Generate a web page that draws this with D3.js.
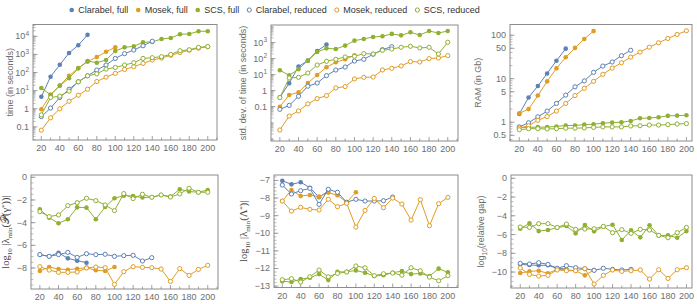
<!DOCTYPE html>
<html>
<head>
<meta charset="utf-8">
<script src="https://cdn.jsdelivr.net/npm/d3@7"></script>
<style>
    body { margin: 0; background: #fff; }
    svg { display: block; font-family: "Liberation Sans", Arial, sans-serif; }
    .tick-label { fill: #6e6e6e; font-size: 9px; }
    .axis-label { fill: #6e6e6e; font-size: 9px; }
    .math-label { fill: #444; font-family: "Liberation Serif", "DejaVu Serif", serif; font-size: 10.5px; }
    .legend-text { fill: #333; font-size: 9px; }
</style>
</head>
<body>
<svg id="chart" width="697" height="304"></svg>
<script>
// problem sizes (x axis)
var sizes = [20, 30, 40, 50, 60, 70, 80, 90, 100, 110, 120, 130, 140, 150, 160, 170, 180, 190, 200];

var seriesNames = ["Clarabel, full", "Mosek, full", "SCS, full", "Clarabel, reduced", "Mosek, reduced", "SCS, reduced"];
var seriesColors = ["#5e81b5", "#e19c24", "#8fb032", "#5e81b5", "#e19c24", "#8fb032"];
var seriesFilled = [true, true, true, false, false, false];

// time (in seconds)
var timeClarabelFull = [4.6, 59, 270, 1200, 3200, 12000];
var timeMosekFull = [0.95, 5.9, 19, 66, 177, 400, 720, 1400, 2450];
var timeScsFull = [14, 5.9, 19, 49, 170, 430, 350, 490, 1550, 2450, 2800, 4650, 4900, 7100, 8100, 13000, 13500, 19000, 19000];
var timeClarabelRed = [0.37, 1.1, 4.2, 12, 31, 66, 137, 260, 600, 1100, 1750, 3000, 5300];
var timeMosekRed = [0.066, 0.32, 1.0, 2.6, 5.6, 12, 32, 56, 90, 148, 210, 320, 490, 630, 890, 1260, 1700, 2200, 2700];
var timeScsRed = [0.46, 4.2, 5, 9.4, 31, 66, 85, 155, 190, 260, 350, 600, 660, 750, 1000, 1600, 1800, 2450, 2700];

// std. dev. of time
var sdClarabelFull = [0.38, 2.9, 32, 75, 300, 750];
var sdMosekFull = [0.1, 0.54, 0.79, 3.0, 9.5, 29, 59, 91, 160];
var sdScsFull = [19, 9, 22, 75, 260, 440, 400, 650, 1330, 1700, 2250, 2500, 3500, 2850, 4400, 3000, 5300, 4000, 5300];
var sdClarabelRed = [0.068, 0.12, 0.45, 1.9, 3.0, 8.7, 19.5, 30, 71, 91, 187, 365, 560];
var sdMosekRed = [0.0035, 0.026, 0.054, 0.15, 0.32, 0.49, 1.5, 1.8, 5.4, 6.8, 7.1, 19.6, 25, 35, 65, 62, 100, 110, 155];
var sdScsRed = [0.37, 6.2, 6.8, 12.6, 40, 68, 91, 127, 140, 205, 195, 330, 400, 510, 590, 465, 510, 195, 1050];

// RAM (in Gb)
var ramClarabelFull = [1.55, 3.7, 6.8, 13.2, 25.8, 49];
var ramMosekFull = [1.6, 2.0, 4.1, 8.7, 17.3, 31, 51, 82, 124];
var ramScsFull = [0.76, 0.76, 0.77, 0.77, 0.8, 0.84, 0.84, 0.88, 0.9, 0.95, 0.98, 1.0, 1.07, 1.23, 1.25, 1.3, 1.4, 1.42, 1.44];
var ramClarabelRed = [0.78, 0.97, 1.33, 1.8, 2.7, 4.2, 6.5, 8.9, 14, 19.5, 24.2, 33.8, 45];
var ramMosekRed = [0.73, 0.83, 1.11, 1.35, 1.8, 2.7, 4.1, 6.0, 8.7, 12.6, 17.5, 23.3, 31.3, 40.8, 53, 67, 84, 104, 126];
var ramScsRed = [0.67, 0.71, 0.71, 0.7, 0.71, 0.73, 0.73, 0.74, 0.76, 0.78, 0.78, 0.78, 0.82, 0.83, 0.86, 0.86, 0.88, 0.91, 0.93];

// log10 |lambda_min(P(gamma*))|
var eigPClarabelFull = [-6.82, -6.97, -6.65, -7.15, -7.35, -7.53];
var eigPMosekFull = [-8.26, -7.91, -8.09, -8.15, -8.06, -7.97, -8.2, -8.26, -7.91];
var eigPScsFull = [-2.82, -3.56, -4.06, -3.7, -2.65, -2.68, -3.7, -2.62, -1.85, -1.62, -1.65, -1.79, -1.76, -1.56, -1.7, -1.06, -1.26, -1.32, -1.12];
var eigPClarabelRed = [-6.82, -6.97, -6.82, -6.62, -7.06, -6.74, -6.82, -6.79, -6.97, -6.91, -6.88, -7.38, -7.09];
var eigPMosekRed = [-7.88, -8.18, -8.38, -8.38, -8.35, -8.0, -7.91, -7.97, -9.44, -8.32, -7.88, -7.94, -7.97, -8.09, -9.18, -8.06, -8.65, -8.12, -7.76];
var eigPScsRed = [-3.03, -3.47, -3.32, -2.5, -2.24, -1.85, -2.06, -2.44, -2.94, -1.44, -1.88, -1.5, -1.76, -1.56, -1.74, -1.47, -0.97, -1.32, -1.32];

// log10 |lambda_min(Lambda*)|
var eigLClarabelFull = [-7.02, -7.22, -7.1, -7.41, -7.95, -7.6];
var eigLMosekFull = [-8.17, -7.54, -7.88, -7.83, -7.92, -7.69, -7.84, -8.24, -7.67];
var eigLScsFull = [-12.72, -12.77, -12.6, -12.53, -12.32, -12.66, -12.19, -12.19, -12.11, -12.24, -12.43, -12.38, -12.24, -12.15, -12.32, -12.28, -12.43, -12.01, -12.22];
var eigLClarabelRed = [-7.26, -7.77, -7.58, -7.45, -8.36, -7.5, -7.67, -8.24, -8.07, -8.17, -8.17, -8.15, -7.94];
var eigLMosekRed = [-8.17, -8.74, -8.53, -8.64, -8.68, -8.07, -8.49, -8.3, -9.65, -8.7, -8.02, -8.55, -8.0, -8.34, -9.25, -8.09, -9.57, -8.32, -7.96];
var eigLScsRed = [-12.64, -12.58, -12.77, -12.47, -12.09, -12.47, -12.28, -12.2, -11.86, -11.96, -12.41, -12.3, -12.26, -12.38, -11.96, -12.13, -12.49, -12.7, -12.41];

// log10(relative gap)
var gapClarabelFull = [-9.18, -9.25, -9.28, -9.28, -9.6, -9.67];
var gapMosekFull = [-10.1, -9.93, -9.86, -10.14, -9.71, -9.75, -9.86, -10.35, -9.78];
var gapScsFull = [-5.38, -4.8, -5.63, -5.52, -5.27, -5.09, -5.87, -4.98, -5.66, -5.16, -4.95, -6.58, -5.55, -6.3, -5.02, -6.1, -6.08, -6.34, -5.63];
var gapClarabelRed = [-9.07, -9.14, -9.0, -9.18, -9.6, -9.32, -9.53, -9.64, -9.82, -9.6, -9.71, -9.78, -9.71];
var gapMosekRed = [-9.57, -10.25, -10.43, -10.35, -9.78, -9.86, -9.86, -9.64, -11.28, -10.35, -9.78, -9.93, -9.86, -9.78, -10.75, -9.75, -10.68, -9.75, -9.53];
var gapScsRed = [-5.2, -5.24, -4.84, -4.84, -5.24, -4.88, -5.45, -5.41, -5.38, -5.13, -5.8, -5.48, -5.87, -5.45, -5.52, -6.08, -6.34, -5.8, -5.24];

// tick values
var xTicks = [20, 40, 60, 80, 100, 120, 140, 160, 180, 200];
var timeTicks = [0.1, 1, 10, 100, 1000, 10000];
var sdTicks = [0.1, 1, 10, 100, 1000];
var ramTicks = [0.5, 1, 5, 10, 50, 100];
var eigPTicks = [0, -2, -4, -6, -8];
var eigLTicks = [-7, -8, -9, -10, -11, -12, -13];
var gapTicks = [0, -2, -4, -6, -8, -10];

var svg = d3.select("#chart");

var panels = [
    { box: [33, 24.5, 217, 140], xDom: [11, 210], log: true, pow: true, yDom: [0.019, 44700], ticks: timeTicks,
      series: [timeClarabelFull, timeMosekFull, timeScsFull, timeClarabelRed, timeMosekRed, timeScsRed],
      labelX: 13, label: [["time (in seconds)"]], math: false },
    { box: [271, 25, 458, 141], xDom: [10.5, 211], log: true, pow: true, yDom: [0.00072, 12600], ticks: sdTicks,
      series: [sdClarabelFull, sdMosekFull, sdScsFull, sdClarabelRed, sdMosekRed, sdScsRed],
      labelX: 246, label: [["std. dev. of time (in seconds)"]], math: false },
    { box: [510, 24.5, 692, 141], xDom: [10, 206], log: true, pow: false, yDom: [0.37, 176], ticks: ramTicks,
      series: [ramClarabelFull, ramMosekFull, ramScsFull, ramClarabelRed, ramMosekRed, ramScsRed],
      labelX: 481, label: [["RAM (in Gb)"]], math: false },
    { box: [31, 175, 218, 289], xDom: [10.5, 211], log: false, yDom: [-9.85, 0.2], ticks: eigPTicks, minorStep: 0.5,
      series: [eigPClarabelFull, eigPMosekFull, eigPScsFull, eigPClarabelRed, eigPMosekRed, eigPScsRed],
      labelX: 9, label: [["log"], ["10", "sub"], [" |λ"], ["min", "sub"], ["(𝒫(γ"], ["*", "sup"], ["))|"]], math: true },
    { box: [274, 175, 458, 287.5], xDom: [11, 211], log: false, yDom: [-13.08, -6.69], ticks: eigLTicks, minorStep: 0.2,
      series: [eigLClarabelFull, eigLMosekFull, eigLScsFull, eigLClarabelRed, eigLMosekRed, eigLScsRed],
      labelX: 247, label: [["log"], ["10", "sub"], [" |λ"], ["min", "sub"], ["(Λ"], ["*", "sup"], [")|"]], math: true },
    { box: [511, 175, 692, 288], xDom: [10, 206], log: false, yDom: [-11.7, 0.35], ticks: gapTicks, minorStep: 0.5,
      series: [gapClarabelFull, gapMosekFull, gapScsFull, gapClarabelRed, gapMosekRed, gapScsRed],
      labelX: 484, label: [["log"], ["10", "sub"], ["(relative gap)"]], math: false }
];

var frameColor = "#8c8c8c";

function fmtTick(v, log) {
    if (!log) return v < 0 ? "\u2212" + Math.abs(v) : String(v);
    return String(v);
}

panels.forEach(function(p) {
    var x0 = p.box[0], y0 = p.box[1], x1 = p.box[2], y1 = p.box[3];

    var x = d3.scaleLinear().domain(p.xDom).range([x0, x1]);
    var y = (p.log ? d3.scaleLog() : d3.scaleLinear()).domain(p.yDom).range([y1, y0]);

    var g = svg.append("g");

    // frame
    g.append("rect")
        .attr("x", x0).attr("y", y0)
        .attr("width", x1 - x0).attr("height", y1 - y0)
        .attr("fill", "none").attr("stroke", frameColor).attr("stroke-width", 1);

    // x ticks (inward)
    d3.range(10, 211, 10).forEach(function(v) {
        if (v < p.xDom[0] || v > p.xDom[1]) return;
        var major = v % 20 === 0;
        g.append("line")
            .attr("x1", x(v)).attr("x2", x(v))
            .attr("y1", y1).attr("y2", y1 - (major ? 4 : 2.5))
            .attr("stroke", frameColor).attr("stroke-width", 0.8);
    });
    g.selectAll(".xt").data(xTicks).enter().append("text")
        .attr("class", "tick-label")
        .attr("x", function(d) { return x(d); })
        .attr("y", y1 + 11)
        .attr("text-anchor", "middle")
        .text(function(d) { return d; });

    // y minor ticks
    var minors = [];
    if (p.log) {
        for (var k = -4; k <= 5; k++) {
            for (var m = 1; m < 10; m++) {
                var v = m * Math.pow(10, k);
                if (v >= p.yDom[0] && v <= p.yDom[1]) minors.push(v);
            }
        }
    } else {
        var s = p.minorStep;
        for (var v = Math.ceil(p.yDom[0] / s) * s; v <= p.yDom[1]; v += s) minors.push(v);
    }
    g.selectAll(".ym").data(minors).enter().append("line")
        .attr("x1", x0).attr("x2", x0 + 2.5)
        .attr("y1", function(d) { return y(d); })
        .attr("y2", function(d) { return y(d); })
        .attr("stroke", frameColor).attr("stroke-width", 0.6);

    g.selectAll(".yM").data(p.ticks).enter().append("line")
        .attr("x1", x0).attr("x2", x0 + 4.5)
        .attr("y1", function(d) { return y(d); })
        .attr("y2", function(d) { return y(d); })
        .attr("stroke", frameColor).attr("stroke-width", 0.8);

    // y tick labels, powers of ten as superscripts
    var yl = g.selectAll(".yl").data(p.ticks).enter().append("text")
        .attr("class", "tick-label")
        .attr("x", x0 - 4)
        .attr("y", function(d) { return y(d) + 3; })
        .attr("text-anchor", "end");
    yl.each(function(d) {
        var t = d3.select(this);
        if (p.pow && d >= 10) {
            var e = Math.round(Math.log10(d));
            t.append("tspan").text("10");
            t.append("tspan").attr("font-size", "6.5px").attr("dy", -3.5).text(e);
        } else {
            t.text(fmtTick(d, p.log));
        }
    });

    // axis label
    var lab = g.append("text")
        .attr("class", p.math ? "math-label" : "axis-label")
        .attr("transform", "translate(" + p.labelX + "," + ((y0 + y1) / 2) + ") rotate(-90)")
        .attr("text-anchor", "middle");
    var shift = 0;
    p.label.forEach(function(part) {
        var ts = lab.append("tspan").text(part[0]);
        var want = part[1] === "sub" ? 2.5 : part[1] === "sup" ? -3.5 : 0;
        if (part[1]) ts.attr("font-size", p.math ? "7px" : "6.5px");
        if (want !== shift) { ts.attr("dy", want - shift); shift = want; }
    });

    // series
    var line = d3.line()
        .x(function(d) { return x(d[0]); })
        .y(function(d) { return y(d[1]); });

    p.series.forEach(function(vals, si) {
        var pts = vals.map(function(v, i) { return [sizes[i], v]; });
        g.append("path")
            .datum(pts)
            .attr("d", line)
            .attr("fill", "none")
            .attr("stroke", seriesColors[si])
            .attr("stroke-width", 1);
        g.selectAll(".pt" + si).data(pts).enter().append("circle")
            .attr("cx", function(d) { return x(d[0]); })
            .attr("cy", function(d) { return y(d[1]); })
            .attr("r", seriesFilled[si] ? 2.3 : 2.1)
            .attr("fill", seriesFilled[si] ? seriesColors[si] : "#fff")
            .attr("stroke", seriesColors[si])
            .attr("stroke-width", seriesFilled[si] ? 0 : 1);
    });
});

// legend
var lx = 71.7;
seriesNames.forEach(function(name, i) {
    svg.append("circle")
        .attr("cx", lx).attr("cy", 10)
        .attr("r", seriesFilled[i] ? 2.3 : 2.1)
        .attr("fill", seriesFilled[i] ? seriesColors[i] : "#fff")
        .attr("stroke", seriesColors[i])
        .attr("stroke-width", seriesFilled[i] ? 0 : 1);
    var t = svg.append("text")
        .attr("class", "legend-text")
        .attr("x", lx + 6.5).attr("y", 13.2)
        .text(name);
    lx += 6.5 + t.node().getComputedTextLength() + 10;
});
</script>
</body>
</html>
